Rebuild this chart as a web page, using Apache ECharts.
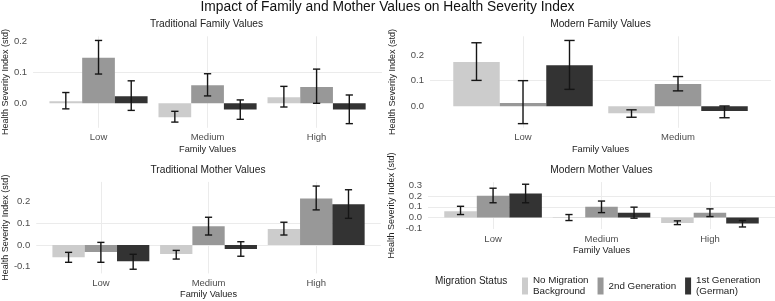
<!DOCTYPE html>
<html>
<head>
<meta charset="utf-8">
<script src="https://cdn.jsdelivr.net/npm/echarts@6/dist/echarts.min.js"></script>
<style>
html,body{margin:0;padding:0;background:#fff;}
#chart{width:775px;height:301px;}
</style>
</head>
<body>
<div id="chart"></div>
<script>
// ---- Data ----
const groupNames = ['No Migration\nBackground', '2nd Generation', '1st Generation\n(German)'];
const groupColors = ['#CCCCCC', '#989898', '#333333'];

const catsThree = ['Low', 'Medium', 'High'];
const catsTwo = ['Low', 'Medium'];

// Traditional Family Values: rows = No Migration, 2nd Gen, 1st Gen
const tfMean = [[0.007, -0.045, 0.020], [0.148, 0.059, 0.053], [0.023, -0.020, -0.020]];
const tfLow  = [[-0.018, -0.061, -0.012], [0.095, 0.024, 0.000], [-0.023, -0.052, -0.066]];
const tfHigh = [[0.035, -0.026, 0.055], [0.204, 0.096, 0.111], [0.073, 0.011, 0.027]];
const tfTicks = [0, 0.1, 0.2];

// Modern Family Values
const mfMean = [[0.173, -0.027], [0.013, 0.087], [0.160, -0.019]];
const mfLow  = [[0.101, -0.043], [-0.068, 0.060], [0.066, -0.045]];
const mfHigh = [[0.248, -0.014], [0.100, 0.116], [0.257, 0.001]];
const mfTicks = [0, 0.1, 0.2];

// Traditional Mother Values
const tmMean = [[-0.057, -0.042, 0.074], [-0.032, 0.086, 0.215], [-0.075, -0.018, 0.188]];
const tmLow  = [[-0.080, -0.065, 0.046], [-0.080, 0.046, 0.162], [-0.112, -0.052, 0.123]];
const tmHigh = [[-0.034, -0.025, 0.105], [0.012, 0.128, 0.272], [-0.043, 0.015, 0.255]];
const tmTicks = [-0.1, 0, 0.1, 0.2];

// Modern Mother Values
const mmMean = [[0.058, 0.002, -0.050], [0.203, 0.100, 0.044], [0.225, 0.044, -0.056]];
const mmLow  = [[0.028, -0.028, -0.066], [0.138, 0.046, 0.009], [0.138, -0.006, -0.088]];
const mmHigh = [[0.105, 0.028, -0.031], [0.274, 0.154, 0.081], [0.311, 0.097, -0.028]];
const mmTicks = [-0.1, 0, 0.1, 0.2, 0.3];

// ---- Layout ----
const FONT = "'Liberation Sans', Arial, sans-serif";
const panels = [
  {title: 'Traditional Family Values', cats: catsThree, mean: tfMean, lo: tfLow, hi: tfHigh, ticks: tfTicks,
   grid: {left: 31, top: 36.3, width: 351, height: 91.5}, nameGap: 21},
  {title: 'Modern Family Values', cats: catsTwo, mean: mfMean, lo: mfLow, hi: mfHigh, ticks: mfTicks,
   grid: {left: 430, top: 36.3, width: 341, height: 91.5}, nameGap: 33},
  {title: 'Traditional Mother Values', cats: catsThree, mean: tmMean, lo: tmLow, hi: tmHigh, ticks: tmTicks,
   grid: {left: 35.2, top: 181.9, width: 345.6, height: 91.5}, nameGap: 25},
  {title: 'Modern Mother Values', cats: catsThree, mean: mmMean, lo: mmLow, hi: mmHigh, ticks: mmTicks,
   grid: {left: 428, top: 182.1, width: 347, height: 47}, nameGap: 32}
];

const DODGE = 0.3, BARW = 0.3, CAPW = 0.2 / 3;

function barRender(g) {
  return function (params, api) {
    const x = api.value(0) + (g - 1) * DODGE;
    const v = api.value(1);
    const p0 = api.coord([x - BARW / 2, 0]);
    const p1 = api.coord([x + BARW / 2, v]);
    return {
      type: 'rect',
      shape: {x: Math.min(p0[0], p1[0]), y: Math.min(p0[1], p1[1]),
              width: Math.abs(p1[0] - p0[0]), height: Math.max(Math.abs(p1[1] - p0[1]), 0.5)},
      style: {fill: api.visual('color')}
    };
  };
}
function errRender(g) {
  return function (params, api) {
    const x = api.value(0) + (g - 1) * DODGE;
    const lo = api.coord([x, api.value(1)]);
    const hi = api.coord([x, api.value(2)]);
    const l = api.coord([x - CAPW / 2, 0])[0];
    const r = api.coord([x + CAPW / 2, 0])[0];
    const st = {stroke: '#151515', lineWidth: 1.4, fill: null};
    return {type: 'group', children: [
      {type: 'line', shape: {x1: lo[0], y1: lo[1], x2: hi[0], y2: hi[1]}, style: st},
      {type: 'line', shape: {x1: l, y1: lo[1], x2: r, y2: lo[1]}, style: st},
      {type: 'line', shape: {x1: l, y1: hi[1], x2: r, y2: hi[1]}, style: st}
    ]};
  };
}

const grids = [], xAxes = [], yAxes = [], series = [], graphics = [];
panels.forEach((p, k) => {
  grids.push(Object.assign({containLabel: false}, p.grid));
  const n = p.cats.length;
  const catIdx = p.cats.map((c, i) => i);
  xAxes.push({
    type: 'value', gridIndex: k, min: -0.6, max: n - 0.4,
    axisLine: {show: false},
    axisTick: {show: false, customValues: catIdx},
    axisLabel: {customValues: catIdx, formatter: v => p.cats[Math.round(v)] || '',
                color: '#4d4d4d', fontSize: 9.5, fontFamily: FONT, margin: 5},
    splitLine: {show: true, lineStyle: {color: '#ebebeb', width: 1}},
    name: 'Family Values', nameLocation: 'middle', nameGap: 17,
    nameTextStyle: {color: '#222', fontSize: 9.2, fontFamily: FONT}
  });
  let lo = 0, hi = 0;
  p.lo.forEach(a => a.forEach(v => { lo = Math.min(lo, v); }));
  p.hi.forEach(a => a.forEach(v => { hi = Math.max(hi, v); }));
  p.mean.forEach(a => a.forEach(v => { lo = Math.min(lo, v); hi = Math.max(hi, v); }));
  const pad = (hi - lo) * 0.05;
  yAxes.push({
    type: 'value', gridIndex: k, min: lo - pad, max: hi + pad,
    axisLine: {show: false},
    axisTick: {show: false, customValues: p.ticks},
    axisLabel: {customValues: p.ticks, formatter: v => v.toFixed(1),
                color: '#4d4d4d', fontSize: 9.5, fontFamily: FONT, margin: 6},
    splitLine: {show: true, showMinLine: false, showMaxLine: false, lineStyle: {color: '#ebebeb', width: 1}},
    name: 'Health Severity Index (std)', nameLocation: 'middle', nameGap: p.nameGap,
    nameTextStyle: {color: '#222', fontSize: 9, fontFamily: FONT}
  });
  for (let g = 0; g < 3; g++) {
    series.push({
      type: 'custom', name: groupNames[g], xAxisIndex: k, yAxisIndex: k,
      itemStyle: {color: groupColors[g]},
      renderItem: barRender(g), clip: false,
      data: p.cats.map((c, i) => [i, p.mean[g][i]]),
      z: 2
    });
  }
  for (let g = 0; g < 3; g++) {
    series.push({
      type: 'custom', name: 'err' + k + '_' + g, xAxisIndex: k, yAxisIndex: k,
      renderItem: errRender(g), clip: false,
      data: p.cats.map((c, i) => [i, p.lo[g][i], p.hi[g][i]]),
      z: 3
    });
  }
  graphics.push({
    type: 'text', x: p.grid.left + p.grid.width / 2, y: p.grid.top - 12,
    style: {text: p.title, fill: '#222', font: '10.2px ' + FONT, align: 'center', verticalAlign: 'middle'}
  });
});

graphics.push({
  type: 'text', x: 387.5, y: 7.5,
  style: {text: 'Impact of Family and Mother Values on Health Severity Index', fill: '#111',
          font: '13.8px ' + FONT, align: 'center', verticalAlign: 'middle'}
});
graphics.push({
  type: 'text', x: 435, y: 281,
  style: {text: 'Migration Status', fill: '#222', font: '10px ' + FONT, align: 'left', verticalAlign: 'middle'}
});

const chart = echarts.init(document.getElementById('chart'), null, {renderer: 'canvas'});
chart.setOption({
  animation: false,
  backgroundColor: '#ffffff',
  grid: grids,
  xAxis: xAxes,
  yAxis: yAxes,
  series: series,
  graphic: graphics,
  legend: {
    data: groupNames, left: 517, top: 270, orient: 'horizontal',
    icon: 'rect', itemWidth: 6, itemHeight: 17, itemGap: 9,
    textStyle: {color: '#222', fontSize: 9.8, fontFamily: FONT, lineHeight: 11},
    selectedMode: false
  }
});
</script>
</body>
</html>
